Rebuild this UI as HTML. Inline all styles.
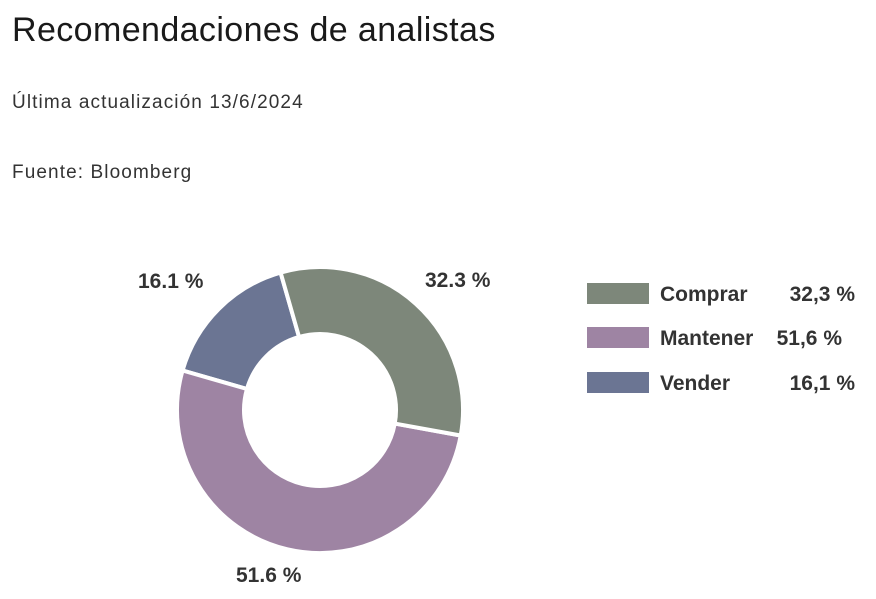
<!DOCTYPE html>
<html><head><meta charset="utf-8"><style>
body{margin:0;width:876px;height:599px;background:#fff;font-family:"Liberation Sans",sans-serif;overflow:hidden;position:relative}
.t{position:absolute;left:12px;color:#1a1a1a}
</style></head><body>
<div class="t" style="top:11px;font-size:34px;letter-spacing:0.4px">Recomendaciones de analistas</div>
<div class="t" style="top:92px;font-size:19px;letter-spacing:1.1px;color:#333">Última actualización 13/6/2024</div>
<div class="t" style="top:162px;font-size:19px;letter-spacing:1.1px;color:#333">Fuente: Bloomberg</div>
<svg id="s" width="876" height="599" style="position:absolute;left:0;top:0" font-family="Liberation Sans, sans-serif" font-weight="bold" font-size="21" fill="#333">
<text x="138" y="288">16.1 %</text>
<text x="425" y="287">32.3 %</text>
<text x="236" y="582">51.6 %</text>
<rect x="587" y="283" width="62" height="21" fill="#7d877a"/>
<rect x="587" y="327" width="62" height="21" fill="#9e84a3"/>
<rect x="587" y="372" width="62" height="21" fill="#6b7593"/>
<text x="660" y="301">Comprar</text><text x="855" y="301" text-anchor="end">32,3 %</text>
<text x="660" y="345">Mantener</text><text x="842" y="345" text-anchor="end">51,6 %</text>
<text x="660" y="390">Vender</text><text x="855" y="390" text-anchor="end">16,1 %</text>
</svg>
<script>
var s=document.getElementById('s'),cx=320,cy=410,R=143,r=76;
var d=[[32.3,'#7d877a'],[51.6,'#9e84a3'],[16.1,'#6b7593']],a=-16;
function p(ang,rad){var t=(ang-90)*Math.PI/180;return (cx+rad*Math.cos(t)).toFixed(2)+' '+(cy+rad*Math.sin(t)).toFixed(2);}
d.forEach(function(x){var b=a+x[0]*3.6,l=(b-a)>180?1:0;
var e=document.createElementNS('http://www.w3.org/2000/svg','path');
e.setAttribute('d','M'+p(a,R)+' A'+R+' '+R+' 0 '+l+' 1 '+p(b,R)+' L'+p(b,r)+' A'+r+' '+r+' 0 '+l+' 0 '+p(a,r)+' Z');
e.setAttribute('fill',x[1]);e.setAttribute('stroke','#fff');e.setAttribute('stroke-width','4');
s.insertBefore(e,s.firstChild);a=b;});
</script>
</body></html>
